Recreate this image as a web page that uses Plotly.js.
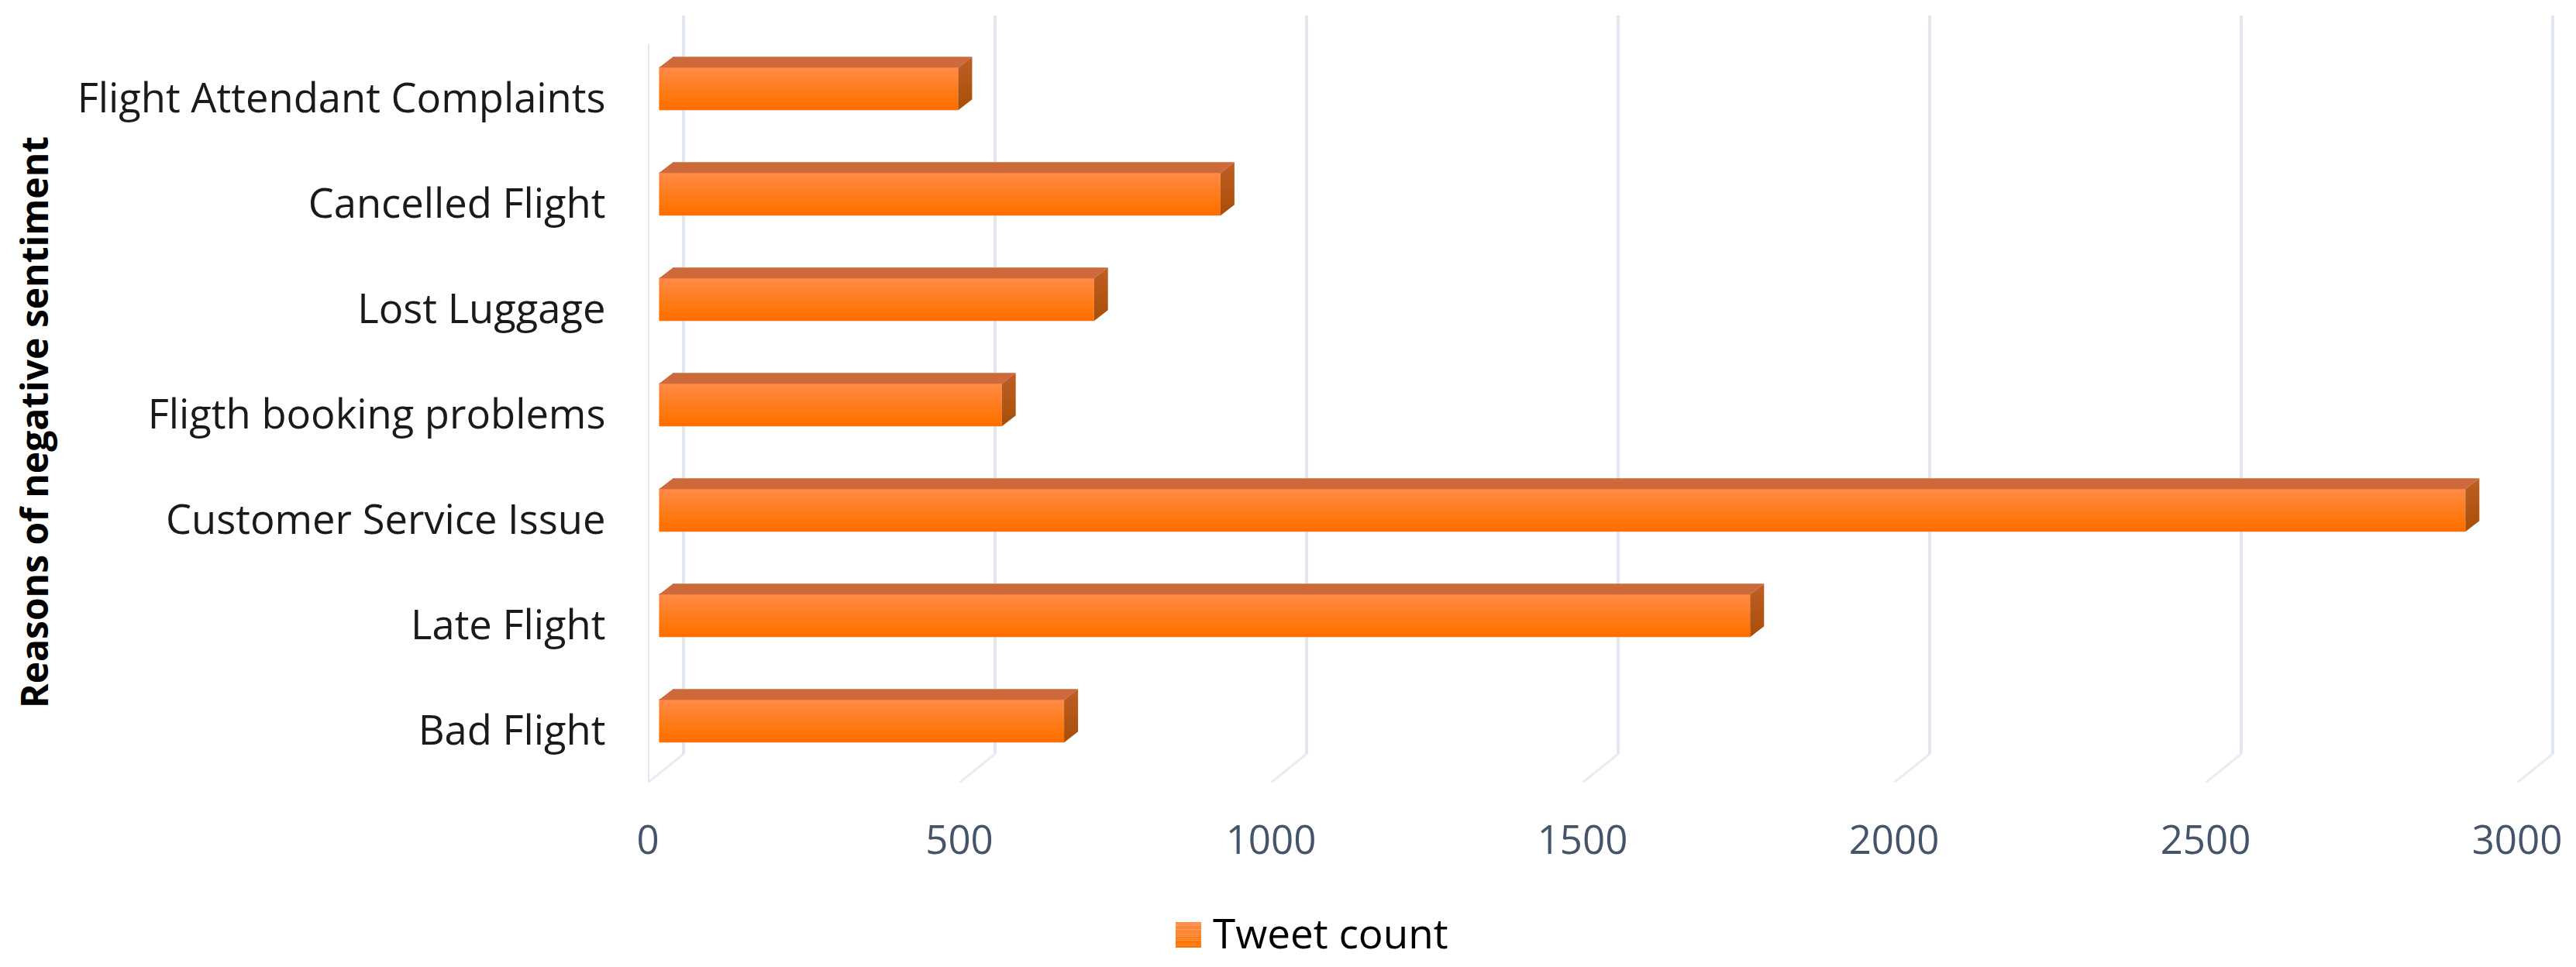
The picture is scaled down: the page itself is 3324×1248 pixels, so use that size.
<!DOCTYPE html>
<html>
<head>
<meta charset="utf-8">
<script src="https://cdn.plot.ly/plotly-3.0.1.min.js"></script>
<style>html,body{margin:0;padding:0;background:#fff;}</style>
</head>
<body>
<div id="chart" style="width:3324px;height:1248px;"></div>
<script>
const categories = ['Bad Flight', 'Late Flight', 'Customer Service Issue', 'Fligth booking problems',
    'Lost Luggage', 'Cancelled Flight', 'Flight Attendant Complaints'];
const tweetCounts = [650, 1751, 2899, 550, 698, 901, 480];
const xTicks = [0, 500, 1000, 1500, 2000, 2500, 3000];
const seriesName = 'Tweet count';
const yAxisTitle = 'Reasons of negative sentiment';

// fake 3D box settings, in axis units
const barInset = 18;
const barLift = 0.09;
const barThick = 0.404;
const barDepthX = 22.4;
const barDepthY = 0.103;
const wallDepthX = 57.2;
const wallDepthY = 0.272;
const yMin = -0.4926;
const yMax = 6.787;
const wallTop = yMax;
const frontTop = yMax - wallDepthY;

const gradient = ['#ff8a45', '#ff8840', '#ff863a', '#ff8434', '#ff822e', '#ff8028', '#ff7e22',
    '#ff7c1c', '#ff7a16', '#ff7810', '#ff760a', '#ff7406', '#ff7202', '#ff7000'];
const gridColor = '#e2e8f0';
const floorColor = '#e8edf3';
const indices = categories.map((_, i) => i);

const traces = [];

// front face: stacked strips of bars give the vertical gradient
gradient.forEach((color, s) => {
    const h = barThick / gradient.length;
    traces.push({
        type: 'bar',
        orientation: 'h',
        y: indices,
        x: tweetCounts,
        base: barInset,
        width: h * 1.3,
        offset: barLift + barThick / 2 - (s + 1) * h,
        marker: {color: color, line: {width: 0}},
        name: seriesName,
        showlegend: false,
        hoverinfo: s === 0 ? 'x+text' : 'skip',
        text: s === 0 ? categories : undefined,
        textposition: 'none'
    });
});

// top and side faces
tweetCounts.forEach((v, i) => {
    const x0 = barInset;
    const x1 = barInset + v;
    const yt = i + barLift + barThick / 2;
    const yb = i + barLift - barThick / 2;
    traces.push({
        type: 'scatter',
        mode: 'lines',
        x: [x0, x1, x1 + barDepthX, x0 + barDepthX, x0],
        y: [yt, yt, yt + barDepthY, yt + barDepthY, yt],
        fill: 'toself',
        fillcolor: '#cc6a3c',
        line: {width: 0},
        hoverinfo: 'skip',
        showlegend: false
    });
    traces.push({
        type: 'scatter',
        mode: 'lines',
        x: [x1, x1 + barDepthX, x1 + barDepthX, x1, x1],
        y: [yt, yt + barDepthY, yb + barDepthY, yb, yt],
        fill: 'toself',
        fillgradient: {type: 'vertical', colorscale: [[0, '#a84e08'], [1, '#bf5f24']]},
        line: {width: 0},
        hoverinfo: 'skip',
        showlegend: false
    });
});

// wall gridlines and floor lines sit below the bars
const shapes = [];
xTicks.forEach(t => {
    shapes.push({
        type: 'line', layer: 'below', xref: 'x', yref: 'y',
        x0: t, x1: t + wallDepthX, y0: yMin, y1: yMin + wallDepthY,
        line: {color: floorColor, width: 3}
    });
    shapes.push({
        type: 'line', layer: 'below', xref: 'x', yref: 'y',
        x0: t + wallDepthX, x1: t + wallDepthX, y0: yMin + wallDepthY, y1: wallTop,
        line: {color: gridColor, width: 4}
    });
});
shapes.push({
    type: 'line', layer: 'below', xref: 'x', yref: 'y',
    x0: 0, x1: 0, y0: yMin, y1: frontTop,
    line: {color: gridColor, width: 4}
});

// legend swatch and label, placed by hand so the swatch can be full size
const W = 3324, H = 1248;
const plotW = W - 836, plotH = 990;
const swatchRows = gradient.length;
gradient.forEach((color, s) => {
    shapes.push({
        type: 'rect', xref: 'paper', yref: 'paper', layer: 'above',
        x0: (1517 - 836) / plotW, x1: (1550 - 836) / plotW,
        y0: (1010 - (1190 + 33 * (s + 1) / swatchRows)) / plotH,
        y1: (1010 - (1190 + 33 * s / swatchRows)) / plotH,
        fillcolor: color, line: {width: 0}
    });
});

const layout = {
    width: W,
    height: H,
    margin: {l: 836, r: 0, t: 20, b: 238, pad: 0},
    paper_bgcolor: '#ffffff',
    plot_bgcolor: '#ffffff',
    showlegend: false,
    barmode: 'overlay',
    font: {family: '"Open Sans", sans-serif', color: '#000000'},
    xaxis: {
        range: [0, 3094.5],
        tickvals: xTicks,
        ticktext: xTicks.map(String),
        showgrid: false,
        zeroline: false,
        showline: false,
        ticks: 'outside',
        ticklen: 30,
        tickcolor: 'rgba(0,0,0,0)',
        tickfont: {size: 51, color: '#44546a'},
        fixedrange: true
    },
    yaxis: {
        range: [yMin, yMax],
        tickvals: indices,
        ticktext: categories,
        showgrid: false,
        zeroline: false,
        showline: false,
        ticks: 'outside',
        ticklen: 43,
        tickcolor: 'rgba(0,0,0,0)',
        tickfont: {size: 52.5, color: '#1a1a1a'},
        fixedrange: true
    },
    shapes: shapes,
    annotations: [{
        xref: 'paper', yref: 'paper', xanchor: 'center', yanchor: 'middle', showarrow: false,
        x: (43 - 836) / plotW,
        y: (1010 - 545) / plotH,
        textangle: -90,
        text: yAxisTitle,
        font: {size: 48, color: '#000000', weight: 'bold'}
    }, {
        xref: 'paper', yref: 'paper', xanchor: 'left', yanchor: 'middle', showarrow: false,
        x: (1563 - 836) / plotW,
        y: (1010 - 1203) / plotH,
        text: seriesName,
        font: {size: 53, color: '#000000'}
    }]
};

Plotly.newPlot('chart', traces, layout, {displayModeBar: false, responsive: false});
</script>
</body>
</html>
